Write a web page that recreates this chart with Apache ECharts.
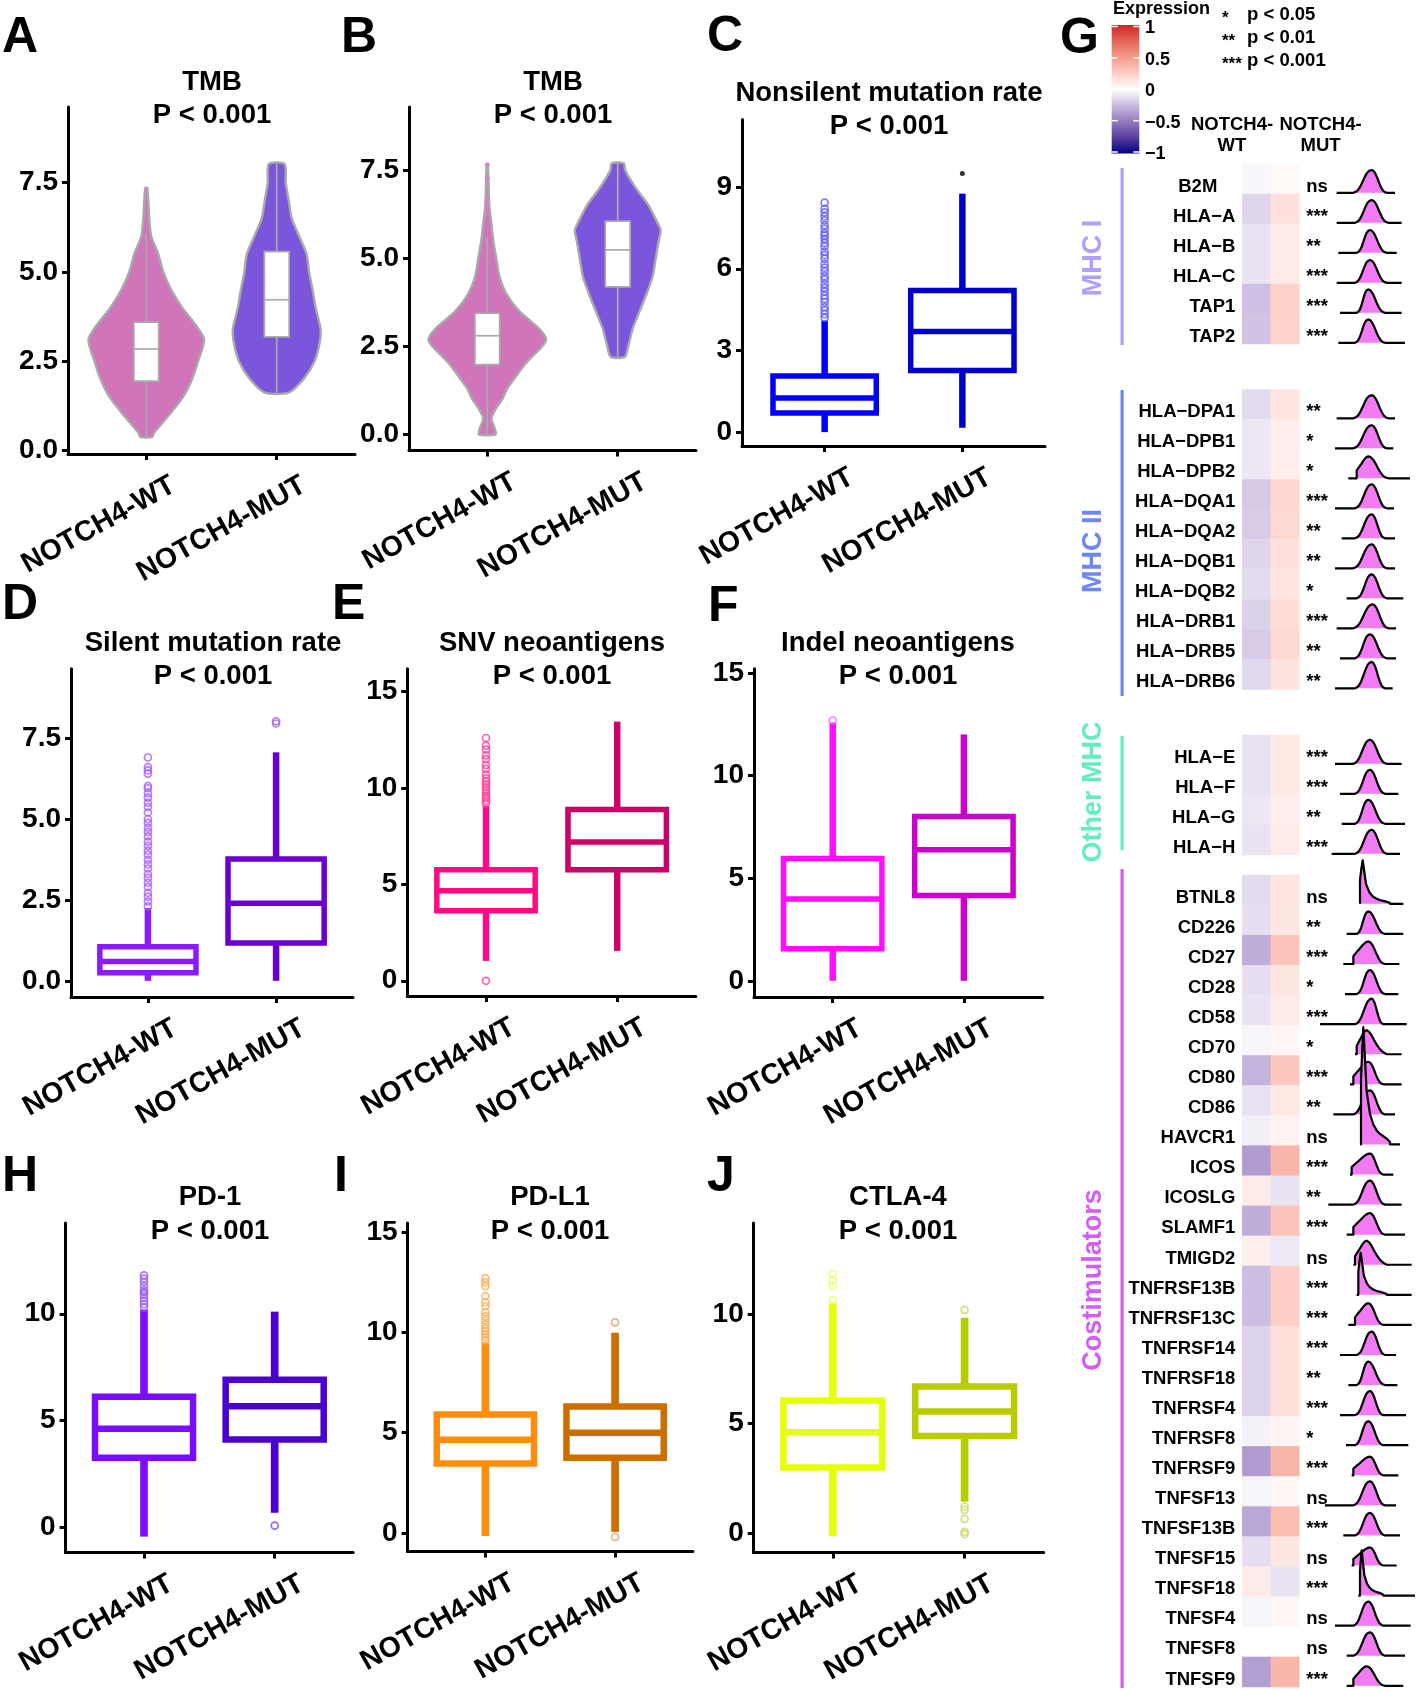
<!DOCTYPE html>
<html><head><meta charset="utf-8">
<script src="https://cdn.jsdelivr.net/npm/echarts@6/dist/echarts.min.js"></script>
<style>html,body{margin:0;padding:0;background:#fff}#c{width:1418px;height:1690px}</style>
</head><body><div id="c"></div><script>
// ================= DATA =================
const groups = ['NOTCH4-WT', 'NOTCH4-MUT'];

// Violin outlines (panel A, B): value and half-width (in units of group spacing)
const vioA_WT_val  = [0.38,0.5,1.0,1.5,2.0,2.5,3.1,3.5,4.0,4.5,5.0,5.5,6.0,6.5,7.0,7.3];
const vioA_WT_wid  = [0.046,0.061,0.176,0.282,0.351,0.397,0.443,0.382,0.275,0.191,0.130,0.092,0.038,0.023,0.015,0.008];
const vioA_MUT_val = [1.62,2.0,2.5,3.0,3.4,4.0,4.5,5.0,5.5,6.0,6.5,7.0,7.5,8.02];
const vioA_MUT_wid = [0.092,0.206,0.290,0.328,0.336,0.298,0.275,0.248,0.229,0.172,0.115,0.092,0.069,0.061];
const vioB_WT_val  = [0,0.2,0.45,0.7,1.0,1.3,1.5,2.0,2.5,2.7,3.0,3.5,4.0,4.5,5.0,5.5,6.0,6.5,7.0,7.66];
const vioB_WT_wid  = [0.065,0.054,0.031,0.061,0.115,0.153,0.191,0.291,0.421,0.451,0.398,0.245,0.145,0.092,0.069,0.046,0.031,0.015,0.011,0.004];
const vioB_MUT_val = [2.2,2.5,3.0,3.5,4.0,4.5,5.0,5.5,5.8,6.0,6.5,7.0,7.5,7.7];
const vioB_MUT_wid = [0.054,0.080,0.115,0.168,0.222,0.268,0.291,0.314,0.329,0.306,0.237,0.138,0.057,0.046];

// Box statistics: [lower whisker, Q1, median, Q3, upper whisker] for WT, MUT
const statsA = [[0.38,1.94,2.84,3.59,6.07],[1.62,3.18,4.22,5.57,8.02]];
const statsB = [[0,1.98,2.8,3.44,5.6],[2.2,4.19,5.24,6.06,7.7]];
const statsC = [[0,0.7,1.25,2.06,4.1],[0.16,2.26,3.7,5.2,8.76]];
const statsD = [[0,0.25,0.6,1.05,2.25],[0,1.17,2.4,3.76,7.06]];
const statsE = [[1.03,3.63,4.67,5.76,9.1],[1.55,5.76,7.2,8.89,13.45]];
const statsF = [[0,1.56,3.99,5.96,12.58],[0,4.15,6.38,8.0,12.0]];
const statsH = [[-0.46,3.24,4.6,6.1,10.2],[0.66,4.1,5.66,6.9,10.1]];
const statsI = [[-0.15,3.46,4.64,5.9,9.5],[0.05,3.75,5.0,6.3,9.98]];
const statsJ = [[-0.14,2.99,4.6,6.05,10.5],[1.43,4.43,5.55,6.7,9.84]];

// Outliers
const outA_WT = [7.33];                      const outA_MUT = [];
const outB_WT = [7.66,7.27,6.66,6.55,6.42,6.3]; const outB_MUT = [];
const outC_WT = [4.2,4.33,4.47,4.6,4.78,4.9,5.02,5.17,5.3,5.44,5.61,5.73,5.9,6.04,6.18,6.37,6.5,6.63,6.82,6.95,7.1,7.22,7.31,7.47,7.6,7.78,7.92,8.07,8.2,8.43];
const outC_MUT = [9.5];
const outD_WT = [2.3,2.45,2.6,2.72,2.9,3.03,3.18,3.3,3.47,3.6,3.74,3.9,4.02,4.17,4.3,4.46,4.6,4.73,4.88,5.0,5.2,5.37,5.5,5.66,5.8,5.95,6.02,6.4,6.5,6.6,6.9];
const outD_MUT = [7.95,8.02];
const outE_WT = [9.2,9.34,9.48,9.6,9.77,9.9,10.05,10.2,10.33,10.5,10.7,11.0,11.2,11.5,11.7,12.0,12.2,12.6,0.0];
const outE_MUT = [];
const outF_WT = [12.68];                     const outF_MUT = [];
const outH_WT = [10.3,10.45,10.6,10.75,10.9,11.0,11.1,11.3,11.5,11.65,11.8]; const outH_MUT = [0.06];
const outI_WT = [9.6,9.75,9.9,10.05,10.2,10.4,10.6,10.8,11.0,11.3,11.5,11.8,12.3,12.5,12.7]; const outI_MUT = [10.5,-0.2];
const outJ_WT = [10.65,11.3,11.55,11.85];    const outJ_MUT = [10.2,1.2,1.05,0.64,0.05,-0.05];

// Tick labels
const ticks25 = [0,2.5,5,7.5];
const ticks3  = [0,3,6,9];
const ticks5a = [0,5,10,15];
const ticks5b = [0,5,10];

// Panel G: genes, expression (WT, MUT), significance, density profile [start, rise, peak, fall, end, shape, height]
const genesMHC1 = ['B2M','HLA−A','HLA−B','HLA−C','TAP1','TAP2'];
const wtMHC1  = [-0.03,-0.15,-0.1,-0.1,-0.23,-0.22];
const mutMHC1 = [0.03,0.15,0.1,0.1,0.23,0.22];
const sigMHC1 = ['ns','***','**','***','***','***'];
const densMHC1 = [[74,79,84.5,89,91.5,0,0.76],[74,79.5,84.5,89.5,93.5,0,0.76],[74.5,80,84,89,92,0,0.76],
  [74,79.5,84,89,93.5,0,0.76],[75,80,83.5,88.5,93.5,0,0.78],[74.5,79.5,83.5,88.5,94.5,0,0.78]];

const genesMHC2 = ['HLA−DPA1','HLA−DPB1','HLA−DPB2','HLA−DQA1','HLA−DQA2','HLA−DQB1','HLA−DQB2','HLA−DRB1','HLA−DRB5','HLA−DRB6'];
const wtMHC2  = [-0.13,-0.09,-0.09,-0.2,-0.19,-0.15,-0.13,-0.17,-0.19,-0.14];
const mutMHC2 = [0.13,0.09,0.09,0.2,0.19,0.15,0.13,0.17,0.19,0.14];
const sigMHC2 = ['**','*','*','***','**','**','*','***','**','**'];
const densMHC2 = [[74,79,84.5,89.5,91.5,0,0.77],[73.5,79,84.5,89,91,0,0.77],[77.5,80,83.5,89.5,96,1,0.73],
  [73.5,79.5,84.5,89,91.2,0,0.8],[75.5,79.5,84.5,88.5,91.5,0,0.8],[73.5,79,84.5,89,91.5,0,0.8],
  [77,80,84.5,89,94,0,0.8],[74,79,84.8,89.5,91.8,0,0.8],[75,79.5,84,89,91.8,0,0.8],[73.5,79.5,84.5,88.5,90.8,0,0.88]];

const genesOther = ['HLA−E','HLA−F','HLA−G','HLA−H'];
const wtOther  = [-0.11,-0.11,-0.09,-0.1];
const mutOther = [0.11,0.11,0.09,0.1];
const sigOther = ['***','***','**','***'];
const densOther = [[73.5,79,84,89,93.5,0,0.8],[75,79.5,84,88.5,92.5,0,0.8],[75.5,79.5,83.5,88.5,94.5,0,0.8],[72.5,79.5,84.5,89,93,0,0.8]];

const genesCostim = ['BTNL8','CD226','CD27','CD28','CD58','CD70','CD80','CD86','HAVCR1','ICOS','ICOSLG','SLAMF1','TMIGD2',
  'TNFRSF13B','TNFRSF13C','TNFRSF14','TNFRSF18','TNFRSF4','TNFRSF8','TNFRSF9','TNFSF13','TNFSF13B','TNFSF15','TNFSF18','TNFSF4','TNFSF8','TNFSF9'];
const wtCostim  = [-0.13,-0.12,-0.3,-0.12,-0.1,-0.04,-0.28,-0.11,-0.06,-0.37,0.1,-0.3,0.08,
  -0.24,-0.24,-0.16,-0.16,-0.16,-0.05,-0.37,-0.04,-0.33,-0.12,0.1,-0.04,0,-0.36];
const mutCostim = [0.13,0.12,0.3,0.12,0.1,0.04,0.28,0.11,0.06,0.37,-0.1,0.3,-0.08,
  0.24,0.24,0.16,0.16,0.16,0.05,0.37,0.04,0.33,0.12,-0.1,0.04,0,0.36];
const sigCostim = ['ns','**','***','*','***','*','***','**','ns','***','**','***','ns',
  '***','***','***','**','***','*','***','ns','***','ns','***','ns','ns','***'];
const densCostim = [[81,81,81.8,90,94,2,1.45],[77,80,83.5,88.5,94,0,0.75],[76,79,83.5,88.5,92.8,1,0.75],[76.5,80,84,88.5,92.5,0,0.8],
  [69,79.5,84.5,88,95,0,0.85],[79.5,80,83,89,93.5,3,0.8],[78,79,83.5,88,93.5,1,0.75],[73,79,84,88.5,91.5,0,0.8],
  [81,81.3,82,90,93,2,3.9],[78,78.5,84,88,91,1,0.7],[71.5,79,84,88.5,93.5,0,0.8],[77,79,84,88.5,94.5,1,0.72],
  [79,79.5,83,89,96.5,3,0.8],[80,80.5,81.2,89,96.5,2,1.4],[77.5,79.5,83.5,88,96.5,1,0.72],[75,80,84.5,88.5,91.8,0,0.78],
  [77.5,80,83.5,88.5,92.2,0,0.78],[75,79.5,84,88,94.8,0,0.8],[76.8,79.5,83.5,88,95.5,0,0.8],[78.5,79,84,88,92.5,1,0.62],
  [70.5,79,84,88.5,91.8,0,0.8],[76,79.5,84,88.5,93,0,0.75],[78.5,79,84,88,92,1,0.6],[80.5,81,81.5,88,97.5,2,1.5],
  [73.5,79,83.5,88,96.2,0,0.8],[77,79,84,88.5,94.5,0,0.78],[77,79,83,88.5,94,1,0.65]];

// density shape profiles (relative heights along rise / fall)
const bellRise  = [0,0.04,0.12,0.27,0.48,0.7,0.88,0.97,1];
const bellFall  = [1,0.96,0.84,0.65,0.43,0.24,0.1,0.03,0];
const stepRise  = [0.35,0.45,0.55,0.64,0.74,0.84,0.92,0.98,1];
const spikeRise = [0.55,0.8,1];
const spikeFall = [1,0.45,0.26,0.17,0.12,0.09,0.07,0.05,0.02];
const skewFall  = [1,0.93,0.78,0.58,0.4,0.25,0.14,0.06,0];

// ================= LAYOUT / STYLE =================
const FONT = '"Liberation Sans", Arial, Helvetica, sans-serif';
const heatColors = ['#000080','#5B3FA0','#947BC0','#CABBDF','#FFFFFF','#FDCDC4','#F39B8C','#E36757','#CD2626'];

const panels = [
  {id:'A', title:'TMB', stats:statsA, outs:[outA_WT,outA_MUT], vio:[[vioA_WT_val,vioA_WT_wid],[vioA_MUT_val,vioA_MUT_wid]], ticks:ticks25, dec:1,
   grid:[68,107,287,347], y:[-0.1,9.62], tx:212, ty:[82.5,115.5], colors:['#ABABAB','#ABABAB'], vioColors:['#D175BB','#7B55DB'], outColors:['#D77FC2','#8E6BE0']},
  {id:'B', title:'TMB', stats:statsB, outs:[outB_WT,outB_MUT], vio:[[vioB_WT_val,vioB_WT_wid],[vioB_MUT_val,vioB_MUT_wid]], ticks:ticks25, dec:1,
   grid:[409,107,287,343.5], y:[-0.46,9.3], tx:553, ty:[82.5,115.5], colors:['#ABABAB','#ABABAB'], vioColors:['#D175BB','#7B55DB'], outColors:['#D77FC2','#8E6BE0']},
  {id:'C', title:'Nonsilent mutation rate', stats:statsC, outs:[outC_WT,outC_MUT], ticks:ticks3, dec:0,
   grid:[742,119.6,303,326.4], y:[-0.51,11.48], tx:889, ty:[93,126], colors:['#0000FF','#0000CD'], outColors:['#5C5CFF','#000000'], outFilled:[false,true]},
  {id:'D', title:'Silent mutation rate', stats:statsD, outs:[outD_WT,outD_MUT], ticks:ticks25, dec:1,
   grid:[71,668.8,282,328.2], y:[-0.5,9.64], tx:213, ty:[643.5,676], colors:['#8C1AFF','#6A00CF'], outColors:['#A75BFF','#A060E0']},
  {id:'E', title:'SNV neoantigens', stats:statsE, outs:[outE_WT,outE_MUT], ticks:ticks5a, dec:0,
   grid:[407.3,668.8,288.6,327.2], y:[-0.79,16.19], tx:552, ty:[643.5,676], colors:['#FF0A84','#CC0066'], outColors:['#FF3D9E','#D94D94']},
  {id:'F', title:'Indel neoantigens', stats:statsF, outs:[outF_WT,outF_MUT], ticks:ticks5a, dec:0,
   grid:[754,668.8,288.6,328.2], y:[-0.79,15.2], tx:898, ty:[643.5,676], colors:['#FF0DFF','#CC00CC'], outColors:['#FF66FF','#D94DD9']},
  {id:'H', title:'PD-1', stats:statsH, outs:[outH_WT,outH_MUT], ticks:ticks5b, dec:0,
   grid:[65.6,1223,287.5,329.4], y:[-1.2,14.26], tx:210, ty:[1197.5,1231], colors:['#7A0DFF','#4A00D0'], outColors:['#9A5CFF','#7A4DE0']},
  {id:'I', title:'PD-L1', stats:statsI, outs:[outI_WT,outI_MUT], ticks:ticks5a, dec:0,
   grid:[407.6,1223,285.3,328.4], y:[-0.92,15.45], tx:550, ty:[1197.5,1231], colors:['#FF8C0A','#CC6E00'], outColors:['#FFAA50','#E0A060']},
  {id:'J', title:'CTLA-4', stats:statsJ, outs:[outJ_WT,outJ_MUT], ticks:ticks5b, dec:0,
   grid:[753.7,1223,290,329.4], y:[-0.89,14.17], tx:898, ty:[1197.5,1231], colors:['#E6FF0A','#B8CC00'], outColors:['#EEFF55','#CCD860']}
];

const letters = [['A',2,38],['B',341,38],['C',707,37],['G',1060,39],['D',2,605],['E',332,605],['F',708,607],['H',2,1177],['I',334,1177],['J',707,1177]];

const heatGroups = [
  {name:'MHC I', genes:genesMHC1, wt:wtMHC1, mut:mutMHC1, sig:sigMHC1, dens:densMHC1, top:164, h:180, bar:[168,345], labelY:258, color:'#ADA0FF'},
  {name:'MHC II', genes:genesMHC2, wt:wtMHC2, mut:mutMHC2, sig:sigMHC2, dens:densMHC2, top:389.5, h:300, bar:[390,696], labelY:551, color:'#6F86F6'},
  {name:'Other MHC', genes:genesOther, wt:wtOther, mut:mutOther, sig:sigOther, dens:densOther, top:735, h:120, bar:[736,850], labelY:792, color:'#63EFBC'},
  {name:'Costimulators', genes:genesCostim, wt:wtCostim, mut:mutCostim, sig:sigCostim, dens:densCostim, top:875, h:812, bar:[869,1688], labelY:1280, color:'#D55CF7'}
];
const shapes = [{rise:bellRise, fall:bellFall},{rise:stepRise, fall:bellFall},{rise:spikeRise, fall:spikeFall},{rise:stepRise, fall:skewFall}];

// ================= BUILD =================
const option = {animation:false, backgroundColor:'#fff', grid:[], xAxis:[], yAxis:[], series:[], graphic:[], visualMap:[]};
const bold = (s)=>({fontSize:s, fontWeight:'bold', fontFamily:FONT, color:'#000'});
function txt(text, x, y, size, opt){
  opt = opt || {};
  const al = opt.align || 'center';
  return {type:'text', x:x, y:y, rotation:opt.rot||0, silent:true, z:100,
    style:{text:text, fill:opt.color||'#000', font:'bold '+size+'px '+FONT, align:al, textAlign:al, verticalAlign:'middle', textVerticalAlign:'middle'}};
}

panels.forEach(function(p, gi){
  option.grid.push({left:p.grid[0], top:p.grid[1], width:p.grid[2], height:p.grid[3], outerBoundsMode:'none', containLabel:false});
  option.xAxis.push({type:'value', gridIndex:gi, min:0.4, max:2.6,
    axisLine:{show:true, onZero:false, lineStyle:{color:'#000', width:3}},
    axisTick:{show:true, length:6, customValues:[1,2], lineStyle:{color:'#000', width:3}},
    axisLabel:Object.assign(bold(28.5), {customValues:[1,2], formatter:function(v){return groups[Math.round(v)-1];},
      rotate:29, align:'right', verticalAlign:'top', margin:28, padding:[0,-23,0,0]}),
    splitLine:{show:false}});
  option.yAxis.push({type:'value', gridIndex:gi, min:p.y[0], max:p.y[1],
    axisLine:{show:true, onZero:false, lineStyle:{color:'#000', width:3}},
    axisTick:{show:true, length:6, customValues:p.ticks, lineStyle:{color:'#000', width:3}},
    axisLabel:Object.assign(bold(28), {customValues:p.ticks, margin:10, formatter:function(v){return v.toFixed(p.dec);}}),
    splitLine:{show:false}});
  const isVio = !!p.vio;
  if (isVio) {
    option.series.push({type:'custom', xAxisIndex:gi, yAxisIndex:gi, z:1, silent:true,
      data: p.vio.map(function(v,i){return [i+1, v[0][0]];}), encode:{x:0, y:1},
      renderItem:function(params, api){
        const v = p.vio[params.dataIndex]; const x = api.value(0);
        const right = v[0].map(function(val,k){return api.coord([x+v[1][k], val]);});
        const left = v[0].map(function(val,k){return api.coord([x-v[1][k], val]);}).reverse();
        return {type:'polygon', shape:{points:right.concat(left), smooth:0.25},
          style:{fill:p.vioColors[params.dataIndex], stroke:'#A9A9A9', lineWidth:2.4}};
      }});
  }
  const halfW = isVio ? 0.095 : 0.375;
  const lw = isVio ? 1.7 : (p.id==='H'||p.id==='I'||p.id==='J' ? 6.5 : 5.5);
  const wlw = isVio ? lw : lw*1.18;
  option.series.push({type:'custom', xAxisIndex:gi, yAxisIndex:gi, z:2, silent:true,
    data: p.stats.map(function(s,i){return [i+1].concat(s);}), encode:{x:0, y:[1,5]},
    renderItem:function(params, api){
      const x = api.value(0), lo = api.value(1), q1 = api.value(2), md = api.value(3), q3 = api.value(4), hi = api.value(5);
      const c = p.colors[params.dataIndex];
      const a = api.coord([x-halfW, q3]), b = api.coord([x+halfW, q1]);
      const m1 = api.coord([x-halfW, md]), m2 = api.coord([x+halfW, md]);
      const t = api.coord([x, hi]), t2 = api.coord([x, q3]), bo = api.coord([x, lo]), bo2 = api.coord([x, q1]);
      const st = {stroke:c, lineWidth:lw, lineCap:'butt'};
      const wst = {stroke:c, lineWidth:wlw, lineCap:'butt'};
      return {type:'group', children:[
        {type:'line', shape:{x1:t[0], y1:t[1], x2:t2[0], y2:t2[1]}, style:wst},
        {type:'line', shape:{x1:bo[0], y1:bo[1], x2:bo2[0], y2:bo2[1]}, style:wst},
        {type:'rect', shape:{x:a[0], y:a[1], width:b[0]-a[0], height:b[1]-a[1]}, style:{fill:isVio?'#fff':'rgba(255,255,255,0)', stroke:c, lineWidth:lw, lineJoin:'miter'}},
        {type:'line', shape:{x1:m1[0], y1:m1[1], x2:m2[0], y2:m2[1]}, style:st}
      ]};
    }});
  p.outs.forEach(function(list, k){
    if (!list.length) return;
    const filled = isVio || (p.outFilled && p.outFilled[k]);
    option.series.push({type:'scatter', xAxisIndex:gi, yAxisIndex:gi, z:3, silent:true,
      data: list.map(function(v){return [k+1, v];}), symbol:'circle', symbolSize: filled ? 5 : 7,
      itemStyle: filled ? {color:p.outColors[k]} : {color:'rgba(255,255,255,0)', borderColor:p.outColors[k], borderWidth:1.7}});
  });
  option.graphic.push(txt(p.title, p.tx, p.ty[0], 27.5));
  option.graphic.push(txt('P < 0.001', p.tx, p.ty[1], 27.5));
});

letters.forEach(function(l){ option.graphic.push(txt(l[0], l[1], l[2], 50, {align:'left'})); });

// ---- Panel G ----
const heatSeries = [];
heatGroups.forEach(function(g){
  const gh = option.grid.length; // heat grid
  option.grid.push({left:1242.3, top:g.top, width:57, height:g.h, outerBoundsMode:'none'});
  const gd = option.grid.length; // density grid
  option.grid.push({left:1320, top:g.top, width:98, height:g.h, outerBoundsMode:'none'});
  const xh = option.xAxis.length;
  option.xAxis.push({type:'category', gridIndex:gh, data:['WT','MUT'], show:false});
  const xd = option.xAxis.length;
  option.xAxis.push({type:'value', gridIndex:gd, min:69, max:98.4, show:false});
  const yh = option.yAxis.length;
  option.yAxis.push({type:'category', gridIndex:gh, data:g.genes, inverse:true,
    axisLine:{show:false}, axisTick:{show:false}, splitLine:{show:false},
    axisLabel:Object.assign(bold(18.5), {margin:7, verticalAlign:'top', lineHeight:15, formatter:function(v){return v==='B2M' ? '{s|'+v+'}' : v;},
      rich:{s:Object.assign(bold(18.5), {padding:[0,18,0,0], lineHeight:15})}})});
  option.yAxis.push({type:'category', gridIndex:gh, data:g.genes, inverse:true, position:'right',
    axisLine:{show:false}, axisTick:{show:false}, splitLine:{show:false},
    axisLabel:Object.assign(bold(18.5), {margin:7, align:'left', verticalAlign:'top', lineHeight:15, formatter:function(v, i){return g.sig[i];}})});
  const yd = option.yAxis.length;
  option.yAxis.push({type:'category', gridIndex:gd, data:g.genes, inverse:true, show:false});
  const data = [];
  g.genes.forEach(function(n, i){ data.push([0, i, g.wt[i]]); data.push([1, i, g.mut[i]]); });
  heatSeries.push(option.series.length);
  option.series.push({type:'heatmap', xAxisIndex:xh, yAxisIndex:yh, data:data, silent:true, itemStyle:{borderWidth:0}});
  option.series.push({type:'custom', xAxisIndex:xd, yAxisIndex:yd, silent:true,
    data: g.dens.map(function(d, i){return [d[0], i];}), encode:{x:0, y:1},
    renderItem:function(params, api){
      const d = g.dens[params.dataIndex]; const row = params.dataIndex;
      const c = api.coord([d[2], row]); const bh = api.size([0,1])[1];
      const base = c[1] + bh*0.46; const H = bh*d[6];
      const X = function(v){return api.coord([v, row])[0];};
      const sh = shapes[d[5]];
      const pts = [[X(d[1]), base]];
      sh.rise.forEach(function(f,k){ pts.push([X(d[1] + (d[2]-d[1])*k/(sh.rise.length-1)), base - f*H]); });
      sh.fall.forEach(function(f,k){ if (k===0) return; pts.push([X(d[2] + (d[3]-d[2])*k/(sh.fall.length-1)), base - f*H]); });
      pts.push([X(d[3]), base]);
      const line = [[X(d[0]), base]].concat(pts).concat([[X(d[4]), base]]);
      return {type:'group', children:[
        {type:'polygon', shape:{points:pts}, style:{fill:'#F27AF2'}},
        {type:'polyline', shape:{points:line}, style:{stroke:'#000', lineWidth:2.2, fill:null, lineJoin:'round'}}
      ]};
    }});
  // group bar + label
  option.graphic.push({type:'rect', silent:true, shape:{x:1120.5, y:g.bar[0], width:3.2, height:g.bar[1]-g.bar[0]}, style:{fill:g.color}});
  option.graphic.push(txt(g.name, 1094, g.labelY, 27, {rot:Math.PI/2, color:g.color}));
});
option.visualMap.push({type:'continuous', show:false, min:-1, max:1, seriesIndex:heatSeries, inRange:{color:heatColors}});

// legend: colour bar
const cbTop = 26.5, cbBot = 152, cbX = 1111.7, cbW = 27.6;
option.graphic.push({type:'rect', silent:true, shape:{x:cbX, y:cbTop-1.5, width:cbW, height:cbBot-cbTop+3},
  style:{fill:{type:'linear', x:0, y:0, x2:0, y2:1, colorStops:heatColors.slice().reverse().map(function(c,i){return {offset:i/8, color:c};})}}});
['1','0.5','0','−0.5','−1'].forEach(function(t, i){
  const y = cbTop + (cbBot-cbTop)*i/4;
  option.graphic.push({type:'line', silent:true, shape:{x1:cbX, y1:y, x2:cbX+6, y2:y}, style:{stroke:'#fff', lineWidth:1.5}});
  option.graphic.push({type:'line', silent:true, shape:{x1:cbX+cbW-6, y1:y, x2:cbX+cbW, y2:y}, style:{stroke:'#fff', lineWidth:1.5}});
  option.graphic.push(txt(t, 1145, y+2, 18, {align:'left'}));
});
option.graphic.push(txt('Expression', 1113, 9, 18, {align:'left'}));
[['*','p < 0.05',15],['**','p < 0.01',38],['***','p < 0.001',61]].forEach(function(r){
  option.graphic.push(txt(r[0], 1222, r[2]+3, 17, {align:'left'}));
  option.graphic.push(txt(r[1], 1247, r[2], 18.5, {align:'left'}));
});
option.graphic.push(txt('NOTCH4-', 1232, 125, 18.5));
option.graphic.push(txt('WT', 1232, 146, 18.5));
option.graphic.push(txt('NOTCH4-', 1320.5, 125, 18.5));
option.graphic.push(txt('MUT', 1320.5, 146, 18.5));

const chart = echarts.init(document.getElementById('c'), null, {renderer:'canvas'});
chart.setOption(option);
</script></body></html>
